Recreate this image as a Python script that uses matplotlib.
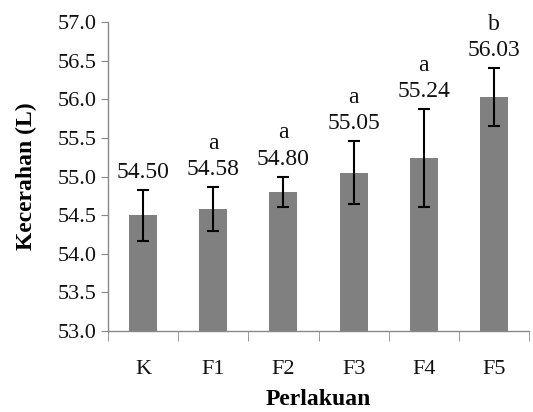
import matplotlib
matplotlib.use("Agg")
import matplotlib.pyplot as plt
import numpy as np

categories = ["K", "F1", "F2", "F3", "F4", "F5"]
means = [54.50, 54.58, 54.80, 55.05, 55.24, 56.03]
errors = [0.33, 0.28, 0.20, 0.41, 0.63, 0.37]
letters = ["", "a", "a", "a", "a", "b"]
yticks = [53.0, 53.5, 54.0, 54.5, 55.0, 55.5, 56.0, 56.5, 57.0]

plt.rcParams['font.family'] = ['Liberation Serif', 'DejaVu Serif']

fig = plt.figure(figsize=(5.33, 4.12), dpi=100)
ax = fig.add_axes([0.2026, 0.1966, 0.790, 0.750])

x = np.arange(len(categories))
ax.bar(x, [m - 53.0 for m in means], bottom=53.0, width=0.4, color="#808080", zorder=2)
ax.errorbar(x, means, yerr=errors, fmt="none", ecolor="black", elinewidth=1.5,
            capsize=4, capthick=1.5, zorder=3)

for xi, m, e, l in zip(x, means, errors, letters):
    top = m + e
    ax.annotate(f"{m:.2f}", (xi, top), xytext=(0, 5), textcoords="offset points",
                ha="center", va="bottom", fontsize=17, color="#111111")
    if l:
        ax.annotate(l, (xi, top), xytext=(0, 24), textcoords="offset points",
                    ha="center", va="bottom", fontsize=17, color="#111111")

ax.set_xlim(-0.5, len(categories) - 0.5)
ax.set_ylim(53.0, 57.0)
ax.set_yticks(yticks)
ax.set_yticklabels([f"{t:.1f}" for t in yticks], fontsize=16, color="#111111")
ax.set_xticks(x)
ax.set_xticklabels(categories, fontsize=16, color="#111111")
ax.set_xticks(np.arange(-0.5, len(categories), 1.0), minor=True)
ax.tick_params(axis="x", which="major", length=0, pad=21)
ax.tick_params(axis="x", which="minor", length=7, color="#888888", direction="out")
ax.tick_params(axis="y", length=5, color="#888888", direction="out", pad=3)

for s in ["top", "right"]:
    ax.spines[s].set_visible(False)
for s in ["left", "bottom"]:
    ax.spines[s].set_color("#888888")
    ax.spines[s].set_linewidth(1.0)

ax.set_xlabel("Perlakuan", fontsize=17, fontweight="bold", labelpad=7)
ax.set_ylabel("Kecerahan (L)", fontsize=17, fontweight="bold", labelpad=15)

fig.savefig("out.png", dpi=100)
